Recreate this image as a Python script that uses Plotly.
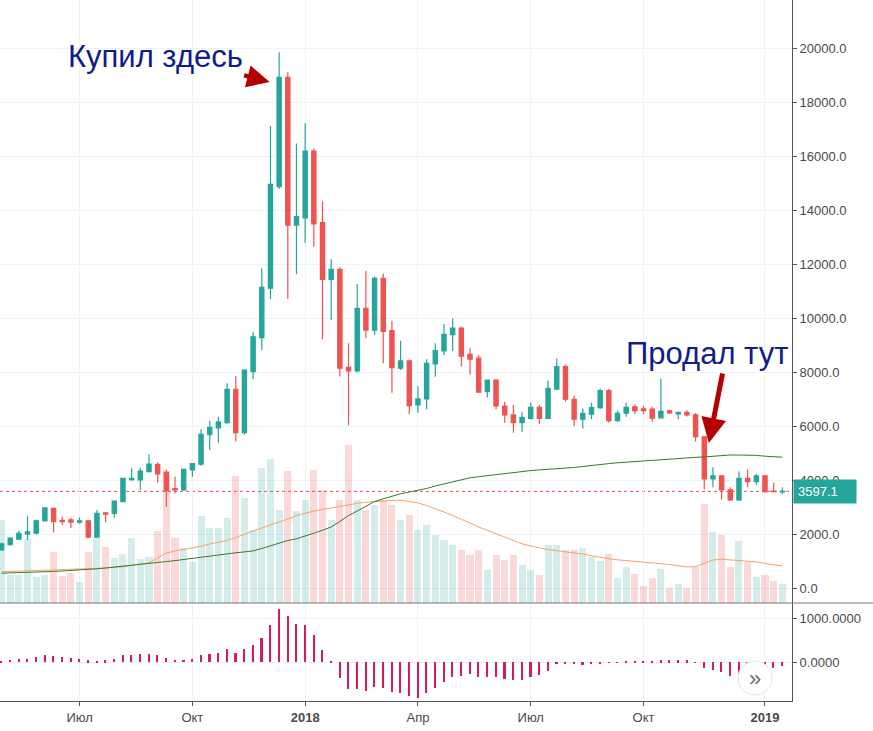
import pandas as pd
import plotly.graph_objects as go

# ---------------- data (weekly bars, BTC/USD) ----------------
week_start = "2017-05-01"
n_weeks = 91

open_ = [1430, 1620, 1830, 2010, 2050, 2500, 2970, 2520, 2540, 2460,
         2510, 1900, 2800, 2780, 3220, 4030, 4020, 4330, 4600, 4300,
         3700, 3650, 4390, 4610, 5700, 5950, 6140, 7380, 5770, 8030,
         9290, 11120, 14880, 18930, 13460, 13730, 16200, 13550, 11450, 11820,
         8190, 8060, 10380, 9570, 11490, 9550, 8160, 8430, 6800, 7020,
         8320, 8800, 9400, 9640, 8670, 8530, 7290, 7720, 6760, 6430,
         6140, 6300, 6710, 6300, 7380, 8215, 7010, 6270, 6460, 6700,
         7330, 6215, 6490, 6730, 6650, 6640, 6320, 6580, 6470, 6520,
         6430, 5620, 4055, 4170, 3650, 3280, 4080, 3960, 4170, 3610,
         3580]
high = [1700, 1900, 2140, 2690, 2560, 3000, 2990, 2660, 2620, 2630,
        2550, 2910, 2830, 3260, 4100, 4470, 4470, 4970, 4680, 4400,
        4140, 4420, 4650, 5900, 6200, 6360, 7600, 7870, 8100, 9510,
        11860, 17130, 19860, 19120, 16480, 17230, 16300, 14350, 12190, 11900,
        9080, 11280, 11770, 11560, 11670, 9920, 9180, 8480, 7500, 8490,
        9080, 9800, 10000, 9700, 8900, 8650, 7740, 7760, 6920, 6800,
        6550, 6880, 6800, 7700, 8520, 8300, 7150, 6670, 6880, 7410,
        7400, 6590, 6880, 6820, 6760, 6730, 7780, 6620, 6550, 6600,
        6500, 5650, 4490, 4200, 3750, 4330, 4410, 4240, 4200, 3920,
        3750]
low = [1400, 1580, 1800, 1800, 2000, 2480, 2070, 2350, 2240, 2400,
       1860, 1880, 2440, 2620, 3200, 3980, 3650, 4300, 3920, 3030,
       3530, 3620, 4140, 4550, 5130, 5400, 6100, 5440, 5700, 7750,
       8830, 10720, 14800, 10720, 11640, 12810, 12660, 9230, 9940, 7850,
       6050, 8000, 9270, 9390, 8340, 7250, 8090, 6450, 6510, 6640,
       7840, 8650, 8800, 8220, 7930, 7250, 7070, 6640, 6140, 5770,
       5810, 6250, 6090, 6280, 7360, 6920, 6020, 5930, 6270, 6650,
       6140, 6180, 6360, 6460, 6460, 6180, 6300, 6460, 6270, 6370,
       5440, 3670, 3750, 3300, 3240, 3240, 3750, 3830, 3550, 3585,
       3490]
close = [1650, 1870, 2040, 2100, 2510, 2990, 2480, 2480, 2460, 2510,
         1900, 2785, 2750, 3240, 4080, 4080, 4350, 4610, 4240, 3620,
         3650, 4410, 4630, 5710, 5970, 6170, 7380, 5770, 8090, 9320,
         11155, 14970, 18930, 13460, 13770, 16200, 13500, 11450, 11820, 8160,
         8060, 10380, 9570, 11490, 9520, 8180, 8430, 6770, 7020, 8340,
         8810, 9410, 9640, 8610, 8490, 7270, 7720, 6760, 6430, 6140,
         6340, 6710, 6300, 7410, 8215, 7010, 6270, 6490, 6700, 7330,
         6215, 6490, 6710, 6590, 6590, 6310, 6560, 6500, 6520, 6430,
         5620, 4060, 4170, 3650, 3280, 4080, 3960, 4170, 3590, 3590,
         3597.1]

# volume (thousand BTC, approx.)
volume = [166, 56, 56, 128, 52, 56, 102, 54, 60, 42,
          102, 130, 112, 90, 98, 130, 88, 92, 144, 264,
          130, 110, 82, 174, 150, 150, 170, 254, 210, 146,
          270, 288, 186, 264, 184, 206, 266, 226, 166, 206,
          316, 206, 186, 196, 206, 196, 166, 176, 146, 156,
          136, 126, 116, 106, 96, 106, 66, 96, 86, 96,
          76, 66, 56, 116, 116, 106, 106, 110, 92, 84,
          98, 50, 72, 58, 34, 50, 68, 30, 38, 30,
          72, 198, 142, 136, 72, 124, 82, 52, 56, 44,
          38]

# moving average of volume (orange)
volume_ma = [62.6, 63.2, 63.6, 64.2, 64.6, 65.2, 65.8, 66.2, 66.8, 67.2,
             67.6, 69, 70, 71.4, 72.4, 75, 77.4, 80.4, 90, 100,
             104, 107, 110, 113.4, 118, 122, 125, 131, 138, 144,
             150, 156, 161, 168, 175, 180, 184, 187, 190, 194,
             197, 199.4, 201.4, 203, 204.4, 205.4, 205.6, 203, 200.4, 195,
             189, 182, 175, 168, 160, 152, 145, 138, 131, 124,
             118.4, 114, 110, 107, 104.6, 102.4, 100.4, 98, 94.4, 91,
             88.6, 86.4, 84.4, 83, 81.8, 80.2, 78.8, 77, 74.4, 72,
             73, 80, 86, 87.4, 86, 84.6, 84.6, 82.4, 79, 76,
             74]

# long moving average of price (dark green)
price_ma = [567, 574, 585, 596, 607, 619, 633, 648, 663, 678,
            700, 730, 759, 796, 833, 878, 915, 944, 974, 1000,
            1033, 1078, 1122, 1148, 1193, 1233, 1278, 1322, 1356, 1393,
            1481, 1574, 1667, 1778, 1841, 1937, 2048, 2159, 2278, 2481,
            2704, 2870, 3056, 3222, 3322, 3419, 3507, 3574, 3637, 3704,
            3796, 3870, 3944, 4026, 4100, 4141, 4181, 4226, 4256, 4293,
            4330, 4367, 4393, 4411, 4433, 4459, 4481, 4519, 4563, 4600,
            4626, 4656, 4681, 4700, 4719, 4741, 4770, 4800, 4822, 4841,
            4856, 4874, 4904, 4926, 4944, 4944, 4944, 4930, 4900, 4881,
            4863]

# lower oscillator histogram
oscillator = [30, 55, 70, 77, 115, 154, 138, 115, 92, 77,
              38, 30, 38, 60, 154, 170, 177, 185, 154, 100,
              55, 55, 60, 154, 177, 207, 292, 207, 285, 385,
              554, 846, 1207, 1054, 869, 846, 615, 269, 10, -361,
              -615, -615, -669, -561, -600, -692, -715, -769, -823, -715,
              -592, -446, -331, -308, -269, -331, -346, -346, -385, -408,
              -400, -331, -285, -208, -38, -23, -38, -77, -54, -23,
              -15, -8, 30, 23, 23, 15, 38, 38, 38, 38,
              -8, -138, -192, -230, -308, -285, -300, -250, -115, -130,
              -100]

last_price = 3597.1

tick_dates = ["2017-07-03", "2017-10-02", "2018-01-01", "2018-04-02",
              "2018-07-02", "2018-10-01", "2019-01-07"]
tick_text = ["Июл", "Окт", "<b>2018</b>", "Апр", "Июл", "Окт", "<b>2019</b>"]
price_ticks = list(range(0, 22001, 2000))

buy_text = "Купил здесь"
sell_text = "Продал тут"

# ---------------- styling ----------------
UP = "#26a69a"
DOWN = "#ef5350"
UP_VOL = "rgba(38,166,154,0.2)"
DOWN_VOL = "rgba(239,83,80,0.22)"
GRID = "#eef1f6"
AXIS = "#555555"
TXT = "#4a4a4a"
FONT = "Liberation Sans, Arial, sans-serif"
DAY = 86400000

dates = pd.date_range(week_start, periods=n_weeks, freq="7D")
vol_colors = [UP_VOL if c >= o else DOWN_VOL for o, c in zip(open_, close)]

fig = go.Figure()

fig.add_trace(go.Bar(x=dates, y=volume, marker=dict(color=vol_colors, line=dict(width=0)),
                     width=5.7 * DAY, xaxis="x", yaxis="y", hoverinfo="skip"))
fig.add_trace(go.Scatter(x=dates, y=volume_ma, mode="lines",
                         line=dict(color="#f3a565", width=1), xaxis="x", yaxis="y"))
fig.add_trace(go.Scatter(x=dates, y=price_ma, mode="lines",
                         line=dict(color="#3a7a2a", width=1), xaxis="x", yaxis="y3"))
fig.add_trace(go.Candlestick(
    x=dates, open=open_, high=high, low=low, close=close, xaxis="x", yaxis="y3",
    increasing=dict(line=dict(color=UP, width=1.2), fillcolor=UP),
    decreasing=dict(line=dict(color=DOWN, width=1.2), fillcolor=DOWN),
    whiskerwidth=0))
fig.add_trace(go.Bar(x=dates, y=oscillator, marker=dict(color="#d81b60", line=dict(width=0)),
                     width=1.3 * DAY, xaxis="x", yaxis="y2"))

split = 98 / 701

fig.update_layout(
    width=873, height=731,
    margin=dict(l=0, r=81, t=0, b=30),
    paper_bgcolor="white", plot_bgcolor="white",
    showlegend=False,
    font=dict(family=FONT, size=13, color=TXT),
    bargap=0,
    xaxis=dict(type="date", range=["2017-04-29 19:00", "2019-01-28 19:00"],
               anchor="y2", tickvals=tick_dates, ticktext=tick_text,
               showgrid=True, gridcolor=GRID, showline=True, linecolor=AXIS,
               ticks="outside", ticklen=4, tickcolor=AXIS,
               tickfont=dict(size=13, color=TXT), zeroline=False,
               rangeslider=dict(visible=False)),
    yaxis=dict(domain=[split, 1], range=[0, 1206], visible=False, showgrid=False),
    yaxis3=dict(overlaying="y", side="right", anchor="x", range=[-537, 21796],
                tickvals=price_ticks, tickformat=".1f",
                showgrid=True, gridcolor=GRID, showline=True, linecolor=AXIS,
                ticks="outside", ticklen=4, tickcolor=AXIS, zeroline=False,
                tickfont=dict(size=13, color=TXT)),
    yaxis2=dict(domain=[0, split], range=[-886, 1341], side="right", anchor="x",
                tickvals=[0, 1000], tickformat=".4f",
                showgrid=True, gridcolor=GRID, showline=True, linecolor=AXIS,
                ticks="outside", ticklen=4, tickcolor=AXIS, zeroline=False,
                tickfont=dict(size=13, color=TXT)),
)

# current price dotted line + label
fig.add_shape(type="line", xref="paper", x0=0, x1=1, yref="y3", y0=last_price, y1=last_price,
              line=dict(color=DOWN, width=1, dash="dot"), layer="below")
fig.add_annotation(xref="paper", x=1, xanchor="left", xshift=1, yref="y3", y=last_price,
                   text=f"{last_price:.1f}", showarrow=False, bgcolor=UP, borderpad=4,
                   width=54, align="left", font=dict(color="white", size=13, family=FONT))

# pane separator
fig.add_shape(type="line", xref="paper", x0=0, x1=873 / 792, yref="paper", y0=split, y1=split,
              line=dict(color="#777777", width=1))

# scroll button
fig.add_shape(type="circle", xref="paper", yref="paper",
              x0=738 / 792, x1=772 / 792, y0=6 / 701, y1=40 / 701,
              fillcolor="white", line=dict(color="#e0e3eb", width=1))
fig.add_annotation(xref="paper", yref="paper", x=755 / 792, y=23 / 701, text="»",
                   xanchor="center", yanchor="middle",
                   showarrow=False, font=dict(size=22, color="#6a6d78", family=FONT))

# callouts
NAVY = "#101c8c"
ARROW = "#b30000"
fig.add_annotation(xref="paper", yref="paper", x=155 / 792, y=(701 - 57) / 701,
                   xanchor="center", yanchor="middle",
                   text=buy_text, showarrow=False, font=dict(size=31, color=NAVY, family=FONT))
fig.add_annotation(xref="paper", yref="paper", x=707 / 792, y=(701 - 353) / 701,
                   xanchor="center", yanchor="middle",
                   text=sell_text, showarrow=False, font=dict(size=31, color=NAVY, family=FONT))
fig.add_annotation(x="2017-12-03 07:00", y=18759, xref="x", yref="y3", text="",
                   showarrow=True, ax=-27, ay=-7, arrowcolor=ARROW, arrowwidth=4.5,
                   arrowhead=2, arrowsize=1)
fig.add_annotation(x="2018-11-22 17:00", y=5389, xref="x", yref="y3", text="",
                   showarrow=True, ax=14, ay=-71, arrowcolor=ARROW, arrowwidth=5,
                   arrowhead=2, arrowsize=1)

fig.write_html("out.html", config={"displayModeBar": False},
               post_script="document.body.style.margin='0';")
